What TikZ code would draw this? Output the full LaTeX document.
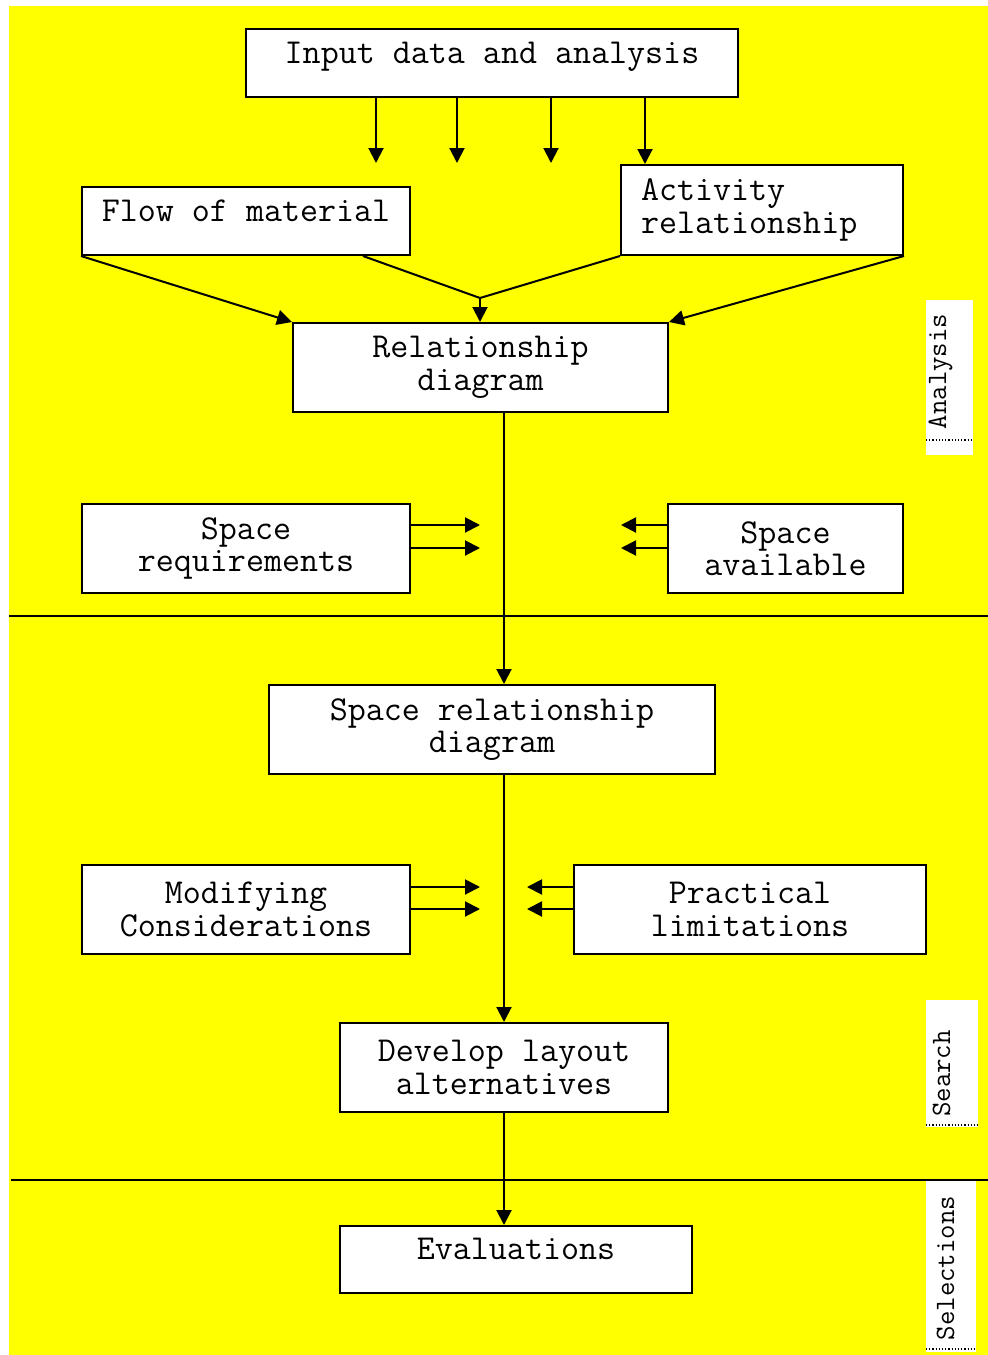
\documentclass[tikz,border=0pt]{standalone}
\usepackage{fontspec}
\usetikzlibrary{arrows.meta,positioning}
\definecolor{planyellow}{RGB}{255,255,0}
\tikzset{plan box/.style={draw, fill=white, line width=2pt, inner sep=0pt,
    align=center, font=\ttfamily\fontsize{35}{32.5}\selectfont}}
\tikzset{one line/.style={text height=10pt, text depth=10pt}}
\tikzset{flow edge/.style={draw, line width=2pt, -{Triangle[length=15pt,width=15pt]}}}
\tikzset{plain edge/.style={draw, line width=2pt}}
\tikzset{phase line/.style={draw, line width=1.5pt}}
\tikzset{phase label/.style={rotate=90, inner sep=0pt, text height=7pt, text depth=7pt,
    font=\ttfamily\fontsize{28}{28}\selectfont}}
\tikzset{phase rule/.style={draw, dotted, line width=1.2pt}}

\begin{document}
\begin{tikzpicture}[x=1pt, y=-1pt]
  \useasboundingbox (0,0) rectangle (988,1355);
  \fill [planyellow] (9,6) rectangle (988,1355);

  % phase separators
  \draw [phase line] (9,616)  -- (988,616);
  \draw [phase line] (11,1180) -- (988,1180);

  \node [plan box, one line, minimum width=492pt, minimum height=68pt] (input)      at (492,63)     {Input data and analysis};
  \node [plan box, one line, minimum width=328pt, minimum height=68pt] (flow)       at (246,221)    {Flow of material};
  \node [plan box, align=left, text width=242pt, inner xsep=20pt,
         minimum width=282pt, minimum height=90pt]                     (activity)   at (762,210)    {Activity\\relationship};
  \node [plan box, minimum width=375pt, minimum height=89pt]           (reldiag)    at (480.5,367.5) {Relationship\\diagram};
  \node [plan box, minimum width=328pt, minimum height=89pt]           (spacereq)   at (246,548.5)  {Space\\requirements};
  \node [plan box, minimum width=235pt, minimum height=89pt]           (spaceavail) at (785.5,548.5) {Space\\available};
  \node [plan box, minimum width=446pt, minimum height=89pt]           (srd)        at (492,729.5)  {Space relationship\\diagram};
  \node [plan box, minimum width=328pt, minimum height=89pt]           (modify)     at (246,909.5)  {Modifying\\Considerations};
  \node [plan box, minimum width=352pt, minimum height=89pt]           (practical)  at (750,909.5)  {Practical\\limitations};
  \node [plan box, minimum width=328pt, minimum height=89pt]           (develop)    at (504,1067.5) {Develop layout\\alternatives};
  \node [plan box, one line, minimum width=352pt, minimum height=67pt] (eval)       at (516,1259.5) {Evaluations};

  % free ends and bends
  \coordinate (in1)   at (376,163);
  \coordinate (in2)   at (457,163);
  \coordinate (in3)   at (551,163);
  \coordinate (in4)   at (645,163);
  \coordinate (split) at (363,0);
  \coordinate (merge) at (480,298);
  \coordinate (spine) at (504,0);
  \coordinate (req1)  at (480,525);
  \coordinate (req2)  at (480,548);
  \coordinate (av1)   at (621,525);
  \coordinate (av2)   at (621,548);
  \coordinate (mod1)  at (480,887);
  \coordinate (mod2)  at (480,909);
  \coordinate (pr1)   at (527,887);
  \coordinate (pr2)   at (527,909);

  \draw [flow edge]  (input.south -| in1) -- (in1);
  \draw [flow edge]  (input.south -| in2) -- (in2);
  \draw [flow edge]  (input.south -| in3) -- (in3);
  \draw [flow edge]  (input.south -| in4) -- (activity.north -| in4);

  \draw [flow edge]  (flow.south west)      -- (reldiag.north west);
  \draw [plain edge] (flow.south -| split)  -- (merge);
  \draw [plain edge] (activity.south west)  -- (merge);
  \draw [flow edge]  (merge)                -- (reldiag.north -| merge);
  \draw [flow edge]  (activity.south east)  -- (reldiag.north east);

  \draw [flow edge]  (reldiag.south -| spine) -- (srd.north -| spine);
  \draw [flow edge]  (srd.south -| spine)     -- (develop.north -| spine);
  \draw [flow edge]  (develop.south -| spine) -- (eval.north -| spine);

  \draw [flow edge]  (spacereq.east |- req1)  -- (req1);
  \draw [flow edge]  (spacereq.east |- req2)  -- (req2);
  \draw [flow edge]  (spaceavail.west |- av1) -- (av1);
  \draw [flow edge]  (spaceavail.west |- av2) -- (av2);
  \draw [flow edge]  (modify.east |- mod1)    -- (mod1);
  \draw [flow edge]  (modify.east |- mod2)    -- (mod2);
  \draw [flow edge]  (practical.west |- pr1)  -- (pr1);
  \draw [flow edge]  (practical.west |- pr2)  -- (pr2);

  % phase labels
  \fill [white] (926,300)  rectangle (973,455);
  \draw [phase rule] (926,440) -- (973,440);
  \node [phase label] (analysis) at (946,371.5) {Analysis};

  \fill [white] (926,1000) rectangle (978,1127);
  \draw [phase rule] (926,1125) -- (978,1125);
  \node [phase label] (search) at (950,1073.5) {Search};

  \fill [white] (926,1181) rectangle (976,1352);
  \draw [phase rule] (926,1349) -- (976,1349);
  \node [phase label] (selections) at (954,1268) {Selections};
\end{tikzpicture}
\end{document}
